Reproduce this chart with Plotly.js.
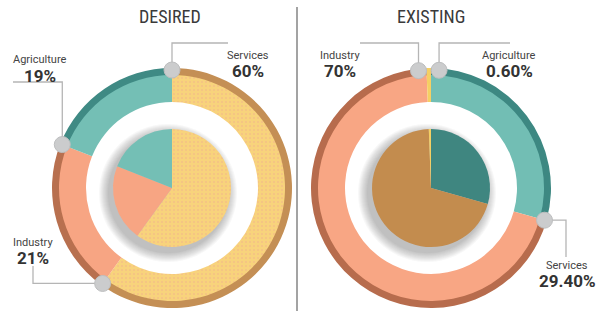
<!DOCTYPE html>
<html><head><meta charset="utf-8">
<script src="https://cdn.plot.ly/plotly-3.0.1.min.js"></script>
<style>html,body{margin:0;padding:0;background:#fff}#chart{width:597px;height:311px}</style>
</head><body><div id="chart"></div>
<script>
// ---- data ----
const sectors = ["Services", "Industry", "Agriculture"];
const desiredShares = [60, 21, 19];
const existingShares = [29.4, 70, 0.6];
const desiredLabels = ["60%", "21%", "19%"];
const existingLabels = ["29.40%", "70%", "0.60%"];
const panelTitles = ["DESIRED", "EXISTING"];

// ---- styling / geometry ----
const W = 597, H = 311;
const FONT = "Roboto, 'Liberation Sans', sans-serif";
const TITLE_FONT = "'Liberation Sans Narrow', 'Roboto Condensed', Roboto, sans-serif";
const panels = [
  { shares: desiredShares, labels: desiredLabels, cx: 172, cy: 188,
    ring: ["#f8d37c", "#f7a583", "#74bfb5"],
    band: ["#c48f55", "#b8704f", "#3f8a84"],
    inner: ["#f8d37c", "#f7a583", "#74bfb5"],
    pattern: [".", "", ""] },
  { shares: existingShares, labels: existingLabels, cx: 431, cy: 188,
    ring: ["#72beb4", "#f8a684", "#f5cf63"],
    band: ["#3d8882", "#b76c4d", "#f5cf63"],
    inner: ["#3f8680", "#c38c4e", "#f5cf63"],
    pattern: ["", "", ""] }
];
const R_BAND = 120, R_RING = 113, R_HOLE = 86, R_INNER = 59, R_DOT = 118, DOT = 8;

function dom(cx, cy, r) {
  return { x: [(cx - r) / W, (cx + r) / W], y: [(H - cy - r) / H, (H - cy + r) / H] };
}
const px = x => x / W, py = y => 1 - y / H;

const traces = [];
const shapes = [];
const annotations = [];

panels.forEach(p => {
  const base = { type: "pie", labels: sectors, values: p.shares, sort: false,
    direction: "clockwise", rotation: 0, textinfo: "none", hoverinfo: "skip", showlegend: false };
  const pat = cols => ({ shape: p.pattern, bgcolor: cols, fgcolor: "#f1a890", fgopacity: 0.45, size: 4, solidity: 0.2 });
  traces.push(Object.assign({}, base, { domain: dom(p.cx, p.cy, R_BAND), hole: (R_RING - 1) / R_BAND,
    marker: { colors: p.band } }));
  traces.push(Object.assign({}, base, { domain: dom(p.cx, p.cy, R_RING), hole: R_HOLE / R_RING,
    marker: { colors: p.ring, pattern: pat(p.ring) } }));
  traces.push(Object.assign({}, base, { domain: dom(p.cx, p.cy, R_INNER), hole: 0,
    marker: { colors: p.inner, pattern: pat(p.inner) } }));
  // soft shadow under the inner pie
  for (let e = 10; e >= 1; e--) {
    shapes.push({ type: "circle", xref: "paper", yref: "paper", layer: "below",
      x0: px(p.cx - 4 - R_INNER - e), x1: px(p.cx - 4 + R_INNER + e),
      y0: py(p.cy + 5 + R_INNER + e), y1: py(p.cy + 5 - R_INNER - e),
      fillcolor: "rgba(60,60,60,0.035)", line: { width: 0 } });
  }
  // boundary angles (clockwise from 12 o'clock)
  const tot = p.shares.reduce((a, b) => a + b, 0);
  let acc = 0;
  p.bounds = p.shares.map(v => { const a = acc / tot * 360; acc += v; return a; });
});

function dotXY(p, ang) {
  const t = ang * Math.PI / 180;
  return [p.cx + R_DOT * Math.sin(t), p.cy - R_DOT * Math.cos(t)];
}
function poly(pts) {
  const d = "M" + pts.map(q => px(q[0]) + "," + py(q[1])).join(" L");
  shapes.push({ type: "path", xref: "paper", yref: "paper", path: d, line: { color: "#b5b5b5", width: 1.3 } });
}

// DESIRED: dots at slice starts
const L = panels[0];
const dS = dotXY(L, L.bounds[0]), dI = dotXY(L, L.bounds[1]), dA = dotXY(L, L.bounds[2]);
poly([[228, 43], [dS[0], 43], dS]);
poly([[13, 82], [dA[0], 82], dA]);
poly([[33, 266], [33, dI[1]], dI]);
// EXISTING: dots at slice ends; the two nearly coincident dots at the top are spread apart
const Rp = panels[1];
const mid = (Rp.bounds[2] + 360) / 2, spread = 5;
const eS = dotXY(Rp, Rp.bounds[1]), eI = dotXY(Rp, mid - spread), eA = dotXY(Rp, mid + spread);
poly([[360, 43], [eI[0], 43], eI]);
poly([[510, 43], [eA[0], 43], eA]);
poly([[566, 257], [566, eS[1]], eS]);

[dS, dI, dA, eS, eI, eA].forEach(d => {
  shapes.push({ type: "circle", xref: "paper", yref: "paper",
    x0: px(d[0] - DOT), x1: px(d[0] + DOT), y0: py(d[1] + DOT), y1: py(d[1] - DOT),
    fillcolor: "#cbcccd", line: { color: "#bdbebf", width: 1 } });
});

// divider
shapes.push({ type: "line", xref: "paper", yref: "paper", x0: px(297), x1: px(297), y0: py(7), y1: py(311),
  line: { color: "#a3a3a3", width: 2 } });

function label(x, y, name, pct) {
  annotations.push({ xref: "paper", yref: "paper", x: px(x), y: py(y), text: name, showarrow: false,
    xanchor: "center", yanchor: "middle", font: { family: FONT, size: 11, color: "#444" } });
  annotations.push({ xref: "paper", yref: "paper", x: px(x), y: py(y + 16), text: "<b>" + pct + "</b>", showarrow: false,
    xanchor: "center", yanchor: "middle", font: { family: FONT, size: 17, color: "#333" } });
}
label(248, 55, sectors[0], desiredLabels[0]);
label(40, 60, sectors[2], desiredLabels[2]);
label(33, 242, sectors[1], desiredLabels[1]);
label(340, 55, sectors[1], existingLabels[1]);
label(509, 55, sectors[2], existingLabels[2]);
label(567, 265, sectors[0], existingLabels[0]);

[[170, panelTitles[0]], [431, panelTitles[1]]].forEach(t => {
  annotations.push({ xref: "paper", yref: "paper", x: px(t[0]), y: py(16), text: t[1], showarrow: false,
    xanchor: "center", yanchor: "middle", font: { family: TITLE_FONT, size: 18, color: "#3a3a3a" } });
});

Plotly.newPlot("chart", traces, {
  width: W, height: H, margin: { l: 0, r: 0, t: 0, b: 0 },
  paper_bgcolor: "#fff", plot_bgcolor: "#fff", shapes: shapes, annotations: annotations
}, { displayModeBar: false, staticPlot: true });
</script></body></html>
